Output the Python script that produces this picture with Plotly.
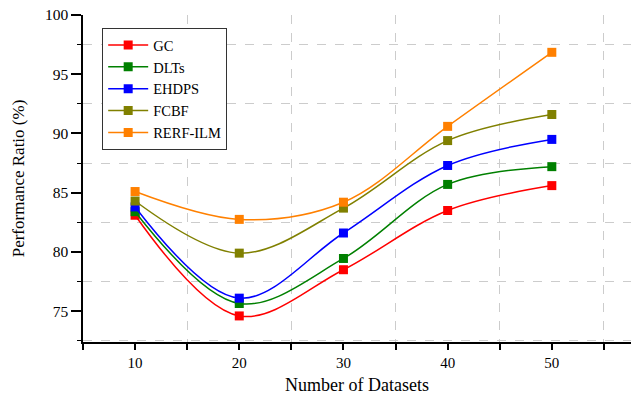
import plotly.graph_objects as go

x_vals = [10, 20, 30, 40, 50]
gc = [83.1, 74.6, 78.5, 83.5, 85.6]
dlts = [83.4, 75.65, 79.45, 85.7, 87.2]
ehdps = [83.8, 76.1, 81.6, 87.3, 89.5]
fcbf = [84.3, 79.9, 83.7, 89.4, 91.6]
rerf = [85.1, 82.75, 84.2, 90.6, 96.85]

series = [
    ("GC", gc, "#FF0000"),
    ("DLTs", dlts, "#008000"),
    ("EHDPS", ehdps, "#0000FF"),
    ("FCBF", fcbf, "#808000"),
    ("RERF-ILM", rerf, "#FF8000"),
]

font_family = "Liberation Serif"

fig = go.Figure()
for name, vals, color in series:
    fig.add_trace(go.Scatter(
        x=x_vals, y=vals, name=name, mode="lines+markers",
        line=dict(color=color, width=1.5, shape="spline", smoothing=1.0),
        marker=dict(symbol="square", size=9, color=color),
    ))

fig.update_layout(
    width=631, height=395,
    margin=dict(l=83, r=0, t=15, b=53),
    paper_bgcolor="white", plot_bgcolor="white",
    font=dict(family=font_family, color="black", size=16),
    showlegend=True,
    legend=dict(
        x=0.035, y=0.96, xanchor="left", yanchor="top",
        bordercolor="#333333", borderwidth=1, bgcolor="white",
        font=dict(family=font_family, size=14.5),
        tracegroupgap=0, itemwidth=40,
    ),
)

fig.update_xaxes(
    range=[5, 57.6], tickmode="linear", tick0=10, dtick=10,
    showgrid=False, zeroline=False, automargin=False,
    showline=True, linecolor="black", linewidth=1.5,
    ticks="outside", ticklen=6, tickwidth=1.5, tickcolor="black",
    tickfont=dict(family=font_family, size=15),
    minor=dict(tick0=5, dtick=5, showgrid=True, gridcolor="#cccccc",
               griddash="dash", gridwidth=1, ticks="outside", ticklen=6,
               tickwidth=1.5, tickcolor="black"),
    title=dict(text="Number of Datasets", font=dict(family=font_family, size=18), standoff=10),
)
fig.update_yaxes(
    range=[72.4, 100], tickmode="linear", tick0=75, dtick=5,
    showgrid=False, zeroline=False, automargin=False,
    showline=True, linecolor="black", linewidth=1.5,
    ticks="outside", ticklen=10, tickwidth=1.5, tickcolor="black",
    tickfont=dict(family=font_family, size=15.5),
    minor=dict(tick0=77.5, dtick=5, showgrid=True, gridcolor="#cccccc",
               griddash="dash", gridwidth=1, ticks="outside", ticklen=4,
               tickwidth=1, tickcolor="black"),
    title=dict(text="Performance Ratio (%)", font=dict(family=font_family, size=17), standoff=16),
)

fig.write_html(
    "out.html",
    config={"displayModeBar": False},
    post_script="document.body.style.margin='0';document.body.style.overflow='hidden';",
)
